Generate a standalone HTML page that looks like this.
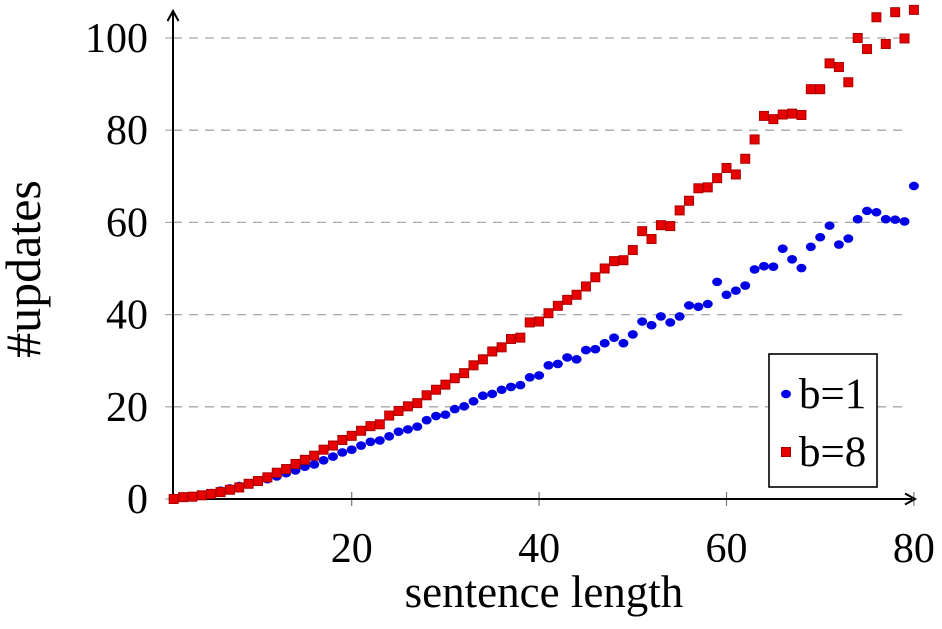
<!DOCTYPE html>
<html><head><meta charset="utf-8"><style>
body{margin:0;background:#fff}
svg text{font-family:"Liberation Serif",serif;fill:#000}
</style></head><body>
<svg id="c" width="942" height="624">
<g id="grid"></g><g id="axes"></g><g id="marks"></g>
<text x="544" y="607" font-size="45" text-anchor="middle">sentence length</text>
<text transform="translate(40,269) rotate(-90)" font-size="50" text-anchor="middle">#updates</text>
<g>
<rect x="769" y="354" width="108" height="133" fill="#fff" stroke="#000" stroke-width="1.6"/>
<ellipse cx="786" cy="394" rx="5" ry="4.3" fill="#0000e6"/>
<text x="799" y="408" font-size="43">b=1</text>
<rect x="781.5" y="447.5" width="9" height="9" fill="#e60000" stroke="#a00" stroke-width="1"/>
<text x="799" y="466" font-size="43">b=8</text>
</g>
</svg>
<script>
const xTicks=[20,40,60,80];
const yTicks=[0,20,40,60,80,100];
const b1=[0.1,0.3,0.6,0.9,1.3,1.8,2.3,2.8,3.3,3.9,4.3,4.9,5.6,6.2,7.0,7.5,8.4,9.2,10.1,10.7,11.6,12.4,12.7,13.6,14.6,15.1,15.7,17.1,18.0,18.3,19.5,20.1,21.2,22.4,22.8,23.7,24.3,24.7,26.4,26.8,29.0,29.3,30.7,30.3,32.3,32.5,33.8,35.0,33.8,35.7,38.5,37.7,39.6,38.3,39.6,42.0,41.7,42.3,47.1,44.3,45.2,46.3,49.8,50.5,50.4,54.3,52.0,50.1,54.7,56.8,59.3,55.2,56.5,60.7,62.5,62.2,60.7,60.6,60.2,67.9];
const b8=[0,0.4,0.5,0.8,1.1,1.5,2.0,2.5,3.3,3.9,4.7,5.7,6.5,7.6,8.5,9.4,10.7,11.6,12.8,13.7,14.8,15.8,16.2,18.1,19.1,20.1,20.8,22.5,23.7,24.8,26.2,27.3,29.0,30.3,32.0,32.9,34.7,35.0,38.3,38.5,40.3,41.9,43.2,44.3,46.1,48.1,50.0,51.6,51.8,54.0,58.1,56.4,59.4,59.2,62.6,64.7,67.4,67.6,69.6,71.8,70.4,73.8,78.0,83.1,82.4,83.4,83.6,83.3,88.9,88.9,94.5,93.7,90.4,100,97.6,104.5,98.7,105.6,99.9,106.1];
const NS='http://www.w3.org/2000/svg';
const X=v=>164.3+9.37*v, Y=v=>499-4.61*v;
function mk(t,a,p){const e=document.createElementNS(NS,t);for(const k in a)e.setAttribute(k,a[k]);p.appendChild(e);return e;}
const grid=document.getElementById('grid'),axes=document.getElementById('axes'),marks=document.getElementById('marks');
yTicks.forEach(v=>{
 if(v>0){const l=mk('line',{x1:173,x2:908,y1:Y(v),y2:Y(v),stroke:'#a8a8a8','stroke-width':1.3,'stroke-dasharray':'9,7'},grid);
 
 }
 const tk=mk('line',{x1:165,x2:181,y1:Y(v),y2:Y(v),stroke:'#a8a8a8','stroke-width':1.2},axes);
 
 
 const t=mk('text',{x:148,y:Y(v)+14,'font-size':42,'text-anchor':'end'},axes);t.textContent=v;
 
 
});
xTicks.forEach(v=>{
 const tk=mk('line',{x1:X(v),x2:X(v),y1:492,y2:506,stroke:'#777','stroke-width':1.2},axes);
 
 
 const t=mk('text',{x:X(v),y:562,'font-size':42,'text-anchor':'middle'},axes);t.textContent=v;
 
 
});
const xa=mk('path',{d:'M173 499H912M905 493.5L915 499L905 504.5',stroke:'#000','stroke-width':2,fill:'none'},axes);


const ya=mk('path',{d:'M173 499V13M167.5 21L173 11L178.5 21',stroke:'#000','stroke-width':2,fill:'none'},axes);


b1.forEach((v,i)=>{const e=mk('ellipse',{cx:X(i+1),cy:Y(v),rx:5,ry:4.3,fill:'#0000e6'},marks);
 
 });
b8.forEach((v,i)=>{const e=mk('rect',{x:X(i+1)-4.5,y:Y(v)-4.5,width:9,height:9,fill:'#e60000',stroke:'#a00','stroke-width':1},marks);
 
 });
</script>
</body></html>
